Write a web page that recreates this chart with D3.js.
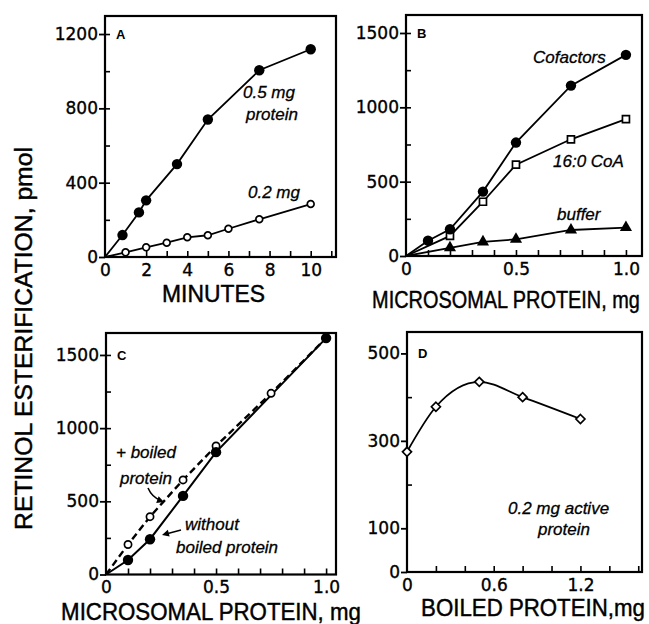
<!DOCTYPE html>
<html><head><meta charset="utf-8">
<script src="https://cdn.jsdelivr.net/npm/d3@7"></script>
<style>
html,body{margin:0;padding:0;background:#fff;}
svg{display:block;}
.tick text{font-family:"DejaVu Sans",sans-serif;font-size:17px;fill:#000;stroke:#000;stroke-width:0.35px;}
.ann{font-family:"Liberation Sans",Arial,sans-serif;font-style:italic;font-size:17px;fill:#000;stroke:#000;stroke-width:0.3px;}
.title{font-family:"Liberation Sans",Arial,sans-serif;font-size:24px;fill:#000;stroke:#000;stroke-width:0.45px;}
.letter{font-family:"Liberation Sans",Arial,sans-serif;font-weight:bold;font-size:13px;fill:#000;}
</style>
</head><body>
<svg id="chart" width="649" height="624"></svg>
<script>
// ---------- DATA ----------
// Panel A: time course
const minutesHigh = [0, 0.85, 1.65, 2, 3.5, 5, 7.5, 10];
const esterHigh   = [0, 118, 240, 305, 500, 740, 1005, 1118];   // 0.5 mg protein
const minutesLow  = [0, 1, 2, 3, 4, 5, 6, 7.5, 10];
const esterLow    = [0, 25, 52, 77, 106, 117, 152, 203, 285];    // 0.2 mg
const ticksA_x = [0, 2, 4, 6, 8, 10];
const ticksA_y = [0, 400, 800, 1200];

// Panel B: microsomal protein dependence
const proteinB    = [0, 0.1, 0.2, 0.35, 0.5, 0.75, 1.0];
const cofactors   = [0, 103, 180, 433, 763, 1146, 1353];
const proteinCoA  = [0, 0.2, 0.35, 0.5, 0.75, 1.0];
const coa160      = [0, 135, 365, 614, 785, 920];
const proteinBuf  = [0, 0.2, 0.35, 0.5, 0.75, 1.0];
const buffer      = [0, 55, 95, 112, 175, 191];
const ticksB_x = [0, 0.5, 1.0];
const ticksB_y = [0, 500, 1000, 1500];

// Panel C: with / without boiled protein
const proteinWithout = [0, 0.1, 0.2, 0.35, 0.5, 1.0];
const withoutBoiled  = [0, 99, 241, 537, 836, 1615];
const proteinBoiled  = [0, 0.1, 0.2, 0.35, 0.5, 0.75, 1.0];
const plusBoiled     = [0, 205, 395, 646, 878, 1238, 1615];
const ticksC_x = [0, 0.5, 1.0];
const ticksC_y = [0, 500, 1000, 1500];

// Panel D: boiled protein dependence
const boiledProtein = [0, 0.2, 0.5, 0.8, 1.2];
const activityD     = [275, 378, 435, 400, 350];
const ticksD_x = [0, 0.6, 1.2];
const ticksD_y = [0, 100, 300, 500];

// ---------- LAYOUT ----------
const svg = d3.select("#chart");
const zip = (xs, ys) => xs.map((x, i) => [x, ys[i]]);

function panel(o) {
  const x = d3.scaleLinear().domain(o.xd).range([o.l, o.r]);
  const y = d3.scaleLinear().domain(o.yd).range([o.b, o.t]);
  const g = svg.append("g");
  g.append("g").attr("transform", `translate(0,${o.b})`)
    .call(d3.axisBottom(x).tickValues(o.xminor).tickSize(-6).tickFormat(""))
    .call(s => s.select(".domain").remove())
    .call(s => s.selectAll("line").attr("stroke-width", 1.6));
  g.append("g").attr("transform", `translate(0,${o.b})`)
    .call(d3.axisBottom(x).tickValues(o.xt).tickSize(0).tickPadding(o.pad || 7).tickFormat(o.xf))
    .call(s => s.select(".domain").remove());
  g.append("g").attr("transform", `translate(${o.l},0)`)
    .call(d3.axisRight(y).tickValues(o.yminor).tickSize(5).tickFormat(""))
    .call(s => s.select(".domain").remove())
    .call(s => s.selectAll("line").attr("stroke-width", 1.6));
  g.append("g").attr("transform", `translate(${o.l},0)`)
    .call(d3.axisLeft(y).tickValues(o.yt).tickSize(6).tickPadding(1).tickFormat(d3.format("d")))
    .call(s => s.select(".domain").remove())
    .call(s => s.selectAll("line").attr("stroke-width", 1.8));
  g.append("rect").attr("x", o.l).attr("y", o.t).attr("width", o.r - o.l).attr("height", o.b - o.t)
    .attr("fill", "none").attr("stroke", "#000").attr("stroke-width", 2.2);
  g.append("text").attr("class", "letter").attr("x", o.l + 11).attr("y", y(o.yt[o.yt.length - 1]) + 5).text(o.letter);
  return {x, y, g};
}
const rng = (a, b, s) => d3.range(Math.round((b - a) / s) + 1).map(i => +(a + i * s).toFixed(4));
const lineGen = (P, curve) => d3.line().x(d => P.x(d[0])).y(d => P.y(d[1])).curve(curve || d3.curveLinear);

function drawLine(P, pts, opts = {}) {
  P.g.append("path").attr("d", lineGen(P, opts.curve)(pts))
    .attr("fill", "none").attr("stroke", "#000").attr("stroke-width", opts.w || 1.8)
    .attr("stroke-dasharray", opts.dash || null);
}
function dots(P, pts, type, size, skipFirst = true) {
  const data = skipFirst ? pts.slice(1) : pts;
  const sel = P.g.append("g").selectAll("path").data(data).join("path")
    .attr("transform", d => `translate(${P.x(d[0])},${P.y(d[1])})`);
  if (type === "filled") sel.attr("d", d3.symbol(d3.symbolCircle, Math.PI * size * size)).attr("fill", "#000");
  if (type === "open") sel.attr("d", d3.symbol(d3.symbolCircle, Math.PI * size * size)).attr("fill", "#fff").attr("stroke", "#000").attr("stroke-width", 1.7);
  if (type === "square") sel.attr("d", d3.symbol(d3.symbolSquare, size * size)).attr("fill", "#fff").attr("stroke", "#000").attr("stroke-width", 1.7);
  if (type === "triangle") sel.attr("d", d3.symbol(d3.symbolTriangle, size * size)).attr("fill", "#000");
  if (type === "diamond") sel.attr("d", `M0,${-size}L${size},0L0,${size}L${-size},0Z`).attr("fill", "#fff").attr("stroke", "#000").attr("stroke-width", 1.7);
}
function text(x, y, s, cls) {
  return svg.append("text").attr("class", cls).attr("x", x).attr("y", y).text(s);
}
// axis title compressed horizontally to the reference's narrow lettering
function title(cx, baseline, s, width, rot) {
  const g = svg.append("g").attr("transform", `translate(${cx},${baseline})${rot ? " rotate(-90)" : ""}`);
  const t = g.append("text").attr("class", "title").attr("text-anchor", "middle").text(s);
  const w = t.node().getComputedTextLength();
  t.attr("transform", `scale(${width / w},1)`);
}
const decFmt = d => d === 0 ? "0" : d3.format(".1f")(d);

// ---------- PANEL A ----------
const A = panel({l:105, r:336, t:16, b:257, xd:[0, 11.23], yd:[0, 1297],
  xt: ticksA_x, yt: ticksA_y, xminor: rng(1, 11, 1), yminor: rng(200, 1200, 200), xf: d3.format("d"), letter: "A"});
drawLine(A, zip(minutesHigh, esterHigh));
drawLine(A, zip(minutesLow, esterLow));
dots(A, zip(minutesHigh, esterHigh), "filled", 5.2);
dots(A, zip(minutesLow, esterLow), "open", 3.4);
text(243, 98, "0.5 mg", "ann");
text(246, 120, "protein", "ann");
text(248, 198, "0.2 mg", "ann");
title(213.5, 302, "MINUTES", 103);

// ---------- PANEL B ----------
const B = panel({l:406, r:642, t:15, b:256, xd:[0, 1.073], yd:[0, 1621],
  xt: ticksB_x, yt: ticksB_y, xminor: rng(0.1, 1.0, 0.1), yminor: rng(250, 1500, 250), xf: decFmt, letter: "B"});
drawLine(B, zip(proteinB, cofactors));
drawLine(B, zip(proteinCoA, coa160));
drawLine(B, zip(proteinBuf, buffer));
dots(B, zip(proteinCoA, coa160), "square", 7);
dots(B, zip(proteinBuf, buffer), "triangle", 8);
dots(B, zip(proteinB, cofactors), "filled", 5.2);
text(533, 63, "Cofactors", "ann");
text(553, 167, "16:0 CoA", "ann");
text(557, 220, "buffer", "ann");
title(506, 308, "MICROSOMAL PROTEIN, mg", 268);

// ---------- PANEL C ----------
const C = panel({l:106, r:336, t:333, b:574.5, xd:[0, 1.045], yd:[0, 1650], pad: 6,
  xt: ticksC_x, yt: ticksC_y, xminor: rng(0.1, 1.0, 0.1), yminor: rng(250, 1500, 250), xf: decFmt, letter: "C"});
drawLine(C, zip(proteinBoiled, plusBoiled), {dash:"7,4", w:2.4});
drawLine(C, zip(proteinWithout, withoutBoiled), {w:2});
dots(C, zip(proteinBoiled, plusBoiled), "open", 3.6);
dots(C, zip(proteinWithout, withoutBoiled), "filled", 5.2);
text(116, 458, "+ boiled", "ann");
text(120, 484, "protein", "ann");
text(185, 530, "without", "ann");
text(176, 553, "boiled protein", "ann");
function arrow(d, tip, ang) {
  svg.append("path").attr("d", d).attr("fill", "none").attr("stroke", "#000").attr("stroke-width", 1.6);
  svg.append("path").attr("d", "M0,0L-7,-3.5L-7,3.5Z").attr("fill", "#000")
    .attr("transform", `translate(${tip[0]},${tip[1]}) rotate(${ang})`);
}
arrow("M148,488 Q152,497 160,500", [164, 502], 20);
arrow("M181,530 L166,534", [162, 535], 165);
title(211, 619.5, "MICROSOMAL PROTEIN, mg", 300);

// ---------- PANEL D ----------
const D = panel({l:407, r:642, t:332, b:572, xd:[0, 1.626], yd:[0, 549],
  xt: ticksD_x, yt: ticksD_y, xminor: rng(0.2, 1.6, 0.2), yminor: [200, 400], xf: decFmt, letter: "D"});
drawLine(D, zip(boiledProtein, activityD), {curve: d3.curveMonotoneX});
dots(D, zip(boiledProtein, activityD), "diamond", 4.5, false);
text(508, 514, "0.2 mg active", "ann");
text(538, 535, "protein", "ann");
title(533, 616, "BOILED PROTEIN,mg", 224);

// ---------- Shared Y title ----------
title(32, 338.5, "RETINOL ESTERIFICATION, pmol", 383, true);
</script>
</body></html>
